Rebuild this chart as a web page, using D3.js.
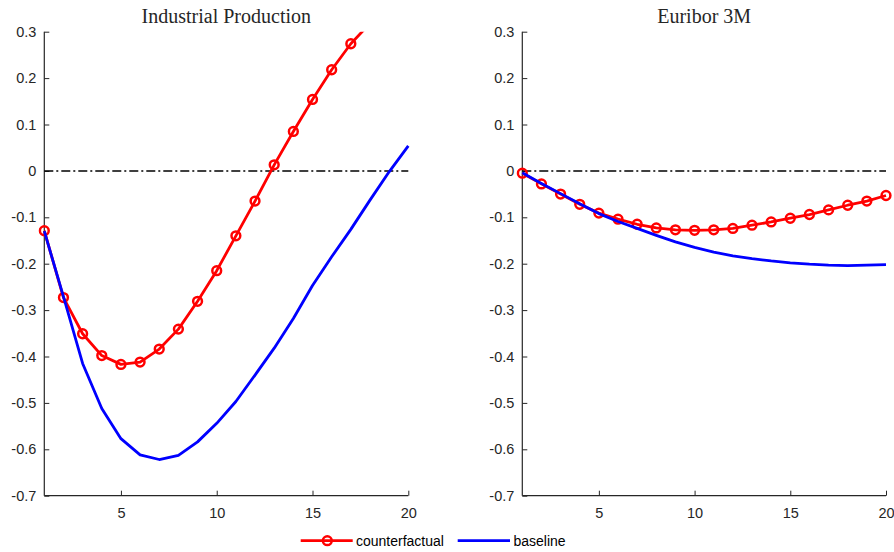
<!DOCTYPE html>
<html>
<head>
<meta charset="utf-8">
<script src="https://cdn.jsdelivr.net/npm/d3@7"></script>
<style>
  html, body { margin: 0; padding: 0; background: #fff; }
  svg { display: block; }
  .tick text { font-family: "Liberation Sans", Arial, sans-serif; font-size: 14.5px; fill: #262626; }
</style>
</head>
<body>
<div id="chart"></div>
<script>
// ---- data ----
const horizons = [1,2,3,4,5,6,7,8,9,10,11,12,13,14,15,16,17,18,19,20];
const panelTitles = ["Industrial Production", "Euribor 3M"];
const ipCounterfactual = [-0.129,-0.273,-0.351,-0.398,-0.417,-0.412,-0.384,-0.341,-0.281,-0.215,-0.140,-0.065,0.013,0.085,0.154,0.218,0.274,0.318,0.355,0.385];
const ipBaseline = [-0.130,-0.271,-0.415,-0.512,-0.577,-0.612,-0.622,-0.613,-0.584,-0.544,-0.497,-0.440,-0.382,-0.318,-0.247,-0.185,-0.126,-0.063,-0.002,0.054];
const euCounterfactual = [-0.005,-0.028,-0.050,-0.072,-0.091,-0.104,-0.115,-0.123,-0.127,-0.128,-0.127,-0.124,-0.117,-0.110,-0.102,-0.094,-0.084,-0.074,-0.065,-0.053];
const euBaseline = [-0.004,-0.027,-0.049,-0.071,-0.092,-0.109,-0.124,-0.139,-0.153,-0.165,-0.175,-0.183,-0.189,-0.194,-0.198,-0.201,-0.203,-0.204,-0.203,-0.202];
const xTicks = [5,10,15,20];
const yTicks = [-0.7,-0.6,-0.5,-0.4,-0.3,-0.2,-0.1,0,0.1,0.2,0.3];
const seriesNames = ["counterfactual", "baseline"];

const W = 894, H = 552;
const svg = d3.select("#chart").append("svg").attr("width", W).attr("height", H);
svg.append("rect").attr("width", W).attr("height", H).attr("fill", "#fff");

const axisColor = "#262626";
const panels = [
  { title: panelTitles[0], cf: ipCounterfactual, bl: ipBaseline, x0: 44.3, x1: 408.3 },
  { title: panelTitles[1], cf: euCounterfactual, bl: euBaseline, x0: 522.3, x1: 886 }
];
const yTop = 31.7, yBot = 495.7;

panels.forEach((p, i) => {
  const x = d3.scaleLinear().domain([1, 20]).range([p.x0, p.x1]);
  const y = d3.scaleLinear().domain([-0.7, 0.3]).range([yBot, yTop]);
  const g = svg.append("g");

  const clipId = "clip" + i;
  svg.append("clipPath").attr("id", clipId)
    .append("rect").attr("x", p.x0 - 6).attr("y", yTop).attr("width", p.x1 - p.x0 + 12).attr("height", yBot - yTop);

  // axes
  const xAxis = d3.axisBottom(x).tickValues(xTicks).tickSize(-5).tickPadding(12).tickFormat(d3.format("d"));
  const yAxis = d3.axisLeft(y).tickValues(yTicks).tickSize(-5).tickPadding(8)
    .tickFormat(d => d === 0 ? "0" : d3.format(".1f")(d).replace("−", "-"));

  const gx = g.append("g").attr("transform", `translate(0,${yBot})`).call(xAxis);
  const gy = g.append("g").attr("transform", `translate(${p.x0},0)`).call(yAxis);
  [gx, gy].forEach(a => {
    a.select(".domain").attr("stroke", axisColor).attr("stroke-width", 1.2).attr("d",
      a === gx ? `M${p.x0},0H${p.x1}` : `M0,${yTop}V${yBot}`);
    a.selectAll(".tick line").attr("stroke", axisColor).attr("stroke-width", 1);
  });
  gx.selectAll(".tick text").attr("dy", "0.71em");

  // title
  g.append("text").attr("x", (p.x0 + p.x1) / 2).attr("y", 22.5)
    .attr("text-anchor", "middle")
    .attr("font-family", "'Liberation Serif', 'DejaVu Serif', serif")
    .attr("font-size", 20).attr("fill", "#262626").text(p.title);

  const plot = g.append("g").attr("clip-path", `url(#${clipId})`);

  // zero line
  plot.append("line").attr("x1", x(1)).attr("x2", x(20)).attr("y1", y(0)).attr("y2", y(0))
    .attr("stroke", "#000").attr("stroke-width", 1.5).attr("stroke-dasharray", "9,3,2,3");

  const line = d3.line().x((d, j) => x(horizons[j])).y(d => y(d));

  // counterfactual
  plot.append("path").datum(p.cf).attr("d", line).attr("fill", "none")
    .attr("stroke", "#ff0000").attr("stroke-width", 2.8).attr("stroke-linejoin", "round");
  plot.selectAll("circle.cf").data(p.cf).join("circle").attr("class", "cf")
    .attr("cx", (d, j) => x(horizons[j])).attr("cy", d => y(d)).attr("r", 4.4)
    .attr("fill", "none").attr("stroke", "#ff0000").attr("stroke-width", 2.5);

  // baseline
  plot.append("path").datum(p.bl).attr("d", line).attr("fill", "none")
    .attr("stroke", "#0000ff").attr("stroke-width", 2.8).attr("stroke-linejoin", "round");
});

// legend
const lg = svg.append("g");
const ly = 540.7;
lg.append("line").attr("x1", 300.7).attr("x2", 352.7).attr("y1", ly).attr("y2", ly)
  .attr("stroke", "#ff0000").attr("stroke-width", 2.8);
lg.append("circle").attr("cx", 327.3).attr("cy", ly).attr("r", 4.4)
  .attr("fill", "none").attr("stroke", "#ff0000").attr("stroke-width", 2.5);
lg.append("text").attr("x", 356).attr("y", ly).attr("dy", "0.35em")
  .attr("font-family", "'Liberation Sans', Arial, sans-serif").attr("font-size", 14)
  .attr("fill", "#000").text(seriesNames[0]);
lg.append("line").attr("x1", 457.7).attr("x2", 510).attr("y1", ly).attr("y2", ly)
  .attr("stroke", "#0000ff").attr("stroke-width", 2.8);
lg.append("text").attr("x", 513.5).attr("y", ly).attr("dy", "0.35em")
  .attr("font-family", "'Liberation Sans', Arial, sans-serif").attr("font-size", 14)
  .attr("fill", "#000").text(seriesNames[1]);
</script>
</body>
</html>
